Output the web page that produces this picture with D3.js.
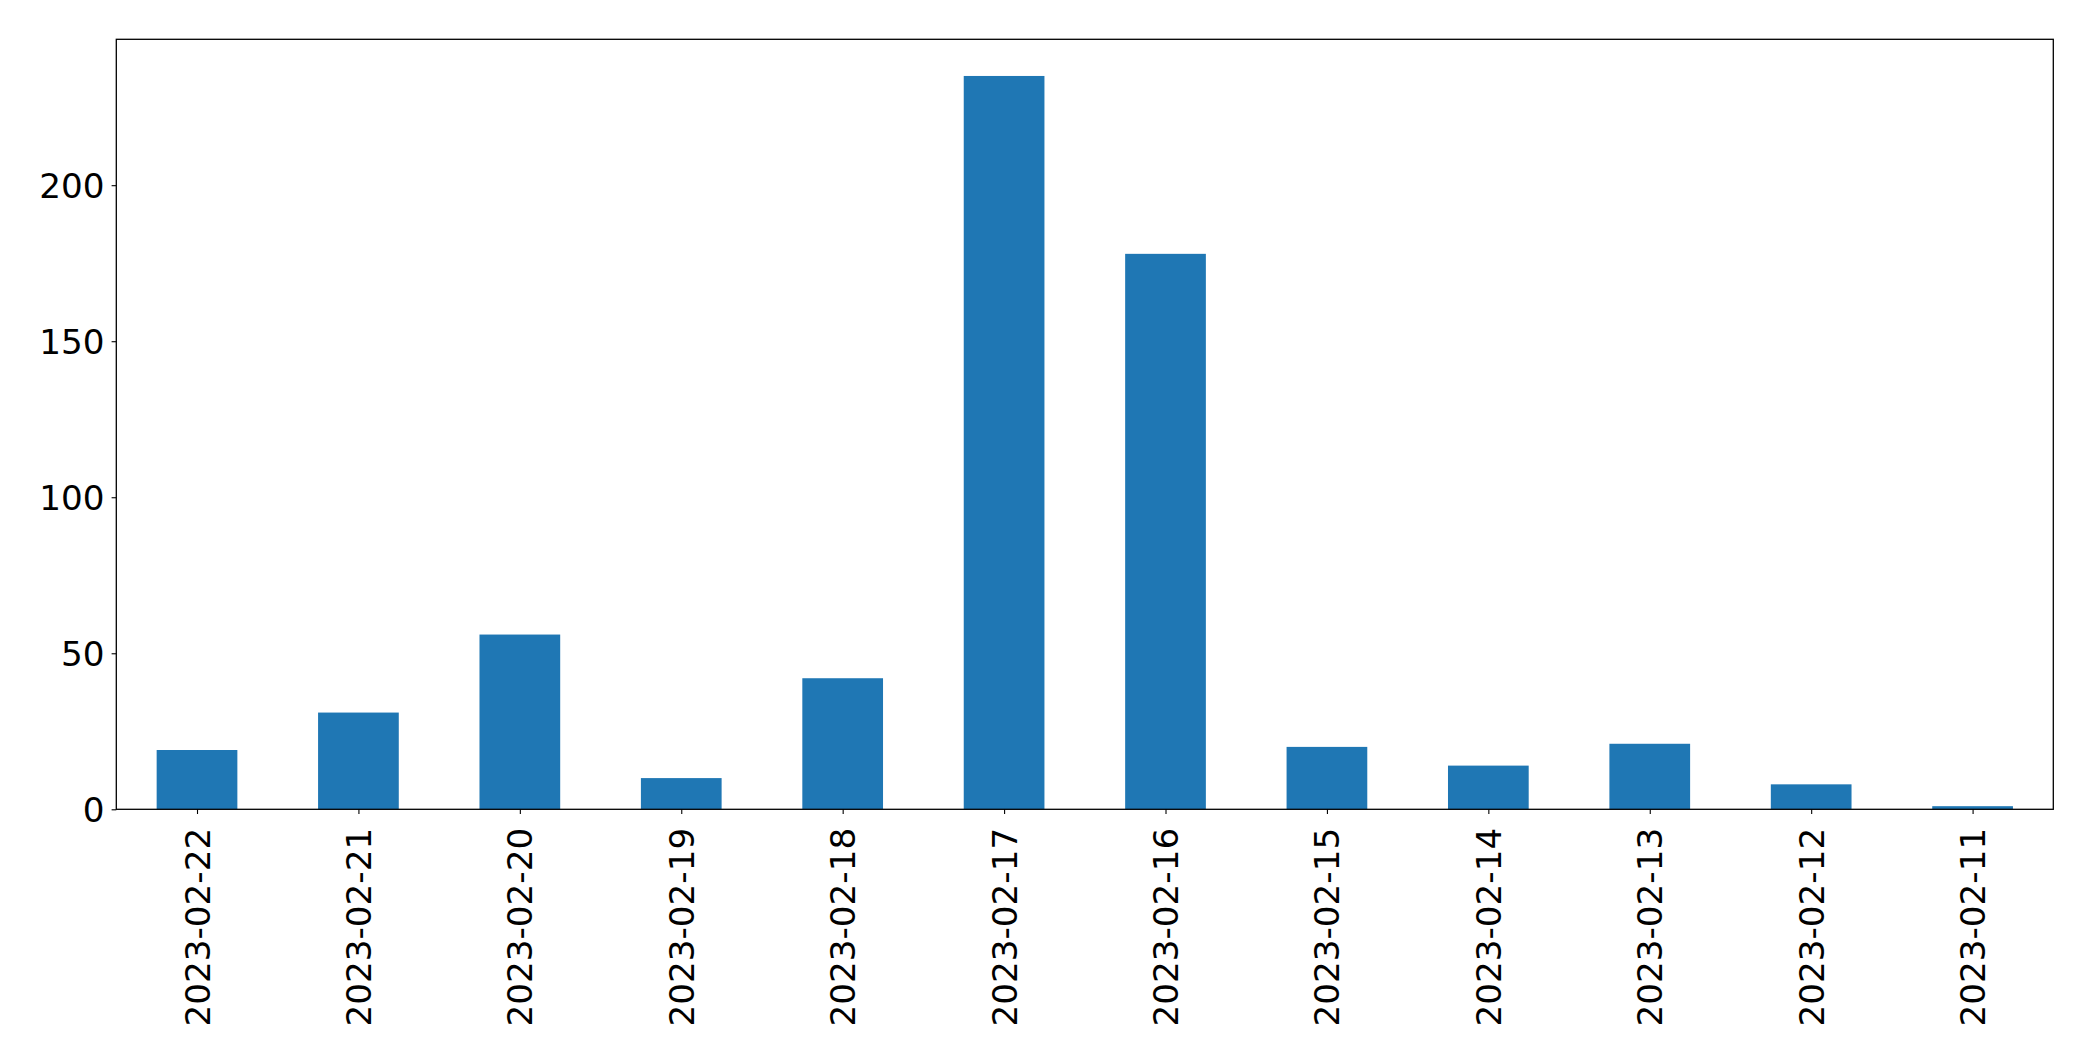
<!DOCTYPE html>
<html><head><meta charset="utf-8">
<script src="https://cdn.jsdelivr.net/npm/d3@7"></script>
<style>body{margin:0;background:#fff;} svg{display:block;} text{font-family:"DejaVu Sans",sans-serif;}</style>
</head><body>
<svg id="chart" width="2093" height="1061"></svg>
<script>
const categories = ["2023-02-22","2023-02-21","2023-02-20","2023-02-19","2023-02-18","2023-02-17","2023-02-16","2023-02-15","2023-02-14","2023-02-13","2023-02-12","2023-02-11"];
const values = [19,31,56,10,42,235,178,20,14,21,8,1];
const yTicks = [0,50,100,150,200];

const svg = d3.select("#chart");
const L = 116.3, R = 2053.3, T = 39.3, B = 809.3;
const fs = 34.2;

const x = d3.scaleLinear().domain([-0.5, categories.length - 0.5]).range([L, R]);
const y = d3.scaleLinear().domain([0, d3.max(values) * 1.05]).range([B, T]);

svg.append("g").selectAll("rect").data(values).join("rect")
  .attr("x", (d, i) => x(i - 0.25))
  .attr("width", (d, i) => x(i + 0.25) - x(i - 0.25))
  .attr("y", d => y(d))
  .attr("height", d => y(0) - y(d))
  .attr("fill", "#1f77b4");

// y axis
const yAxis = d3.axisLeft(y).tickValues(yTicks).tickSize(4.7).tickPadding(7).tickFormat(d3.format("d"));
const gy = svg.append("g").attr("transform", `translate(${L},0)`).call(yAxis);
gy.select(".domain").remove();
gy.selectAll("line").attr("stroke", "#000").attr("stroke-width", 1.1);
gy.selectAll("text").attr("font-size", fs).attr("fill", "#000").attr("font-family", "DejaVu Sans").attr("dy", "0.36em");

// x axis
const xAxis = d3.axisBottom(x).tickValues(d3.range(categories.length)).tickFormat(i => categories[i]).tickSize(4.7);
const gx = svg.append("g").attr("transform", `translate(0,${B})`).call(xAxis);
gx.select(".domain").remove();
gx.selectAll("line").attr("stroke", "#000").attr("stroke-width", 1.1);
gx.selectAll("text")
  .attr("font-size", fs).attr("fill", "#000").attr("font-family", "DejaVu Sans")
  .attr("text-anchor", "end")
  .attr("dy", null)
  .attr("y", 0)
  .attr("transform", "translate(0,18.5) rotate(-90)")
  .attr("x", 0)
  .attr("dominant-baseline", "central");

// frame
svg.append("rect").attr("x", L).attr("y", T).attr("width", R - L).attr("height", B - T)
  .attr("fill", "none").attr("stroke", "#000").attr("stroke-width", 1.3);
</script>
</body></html>
